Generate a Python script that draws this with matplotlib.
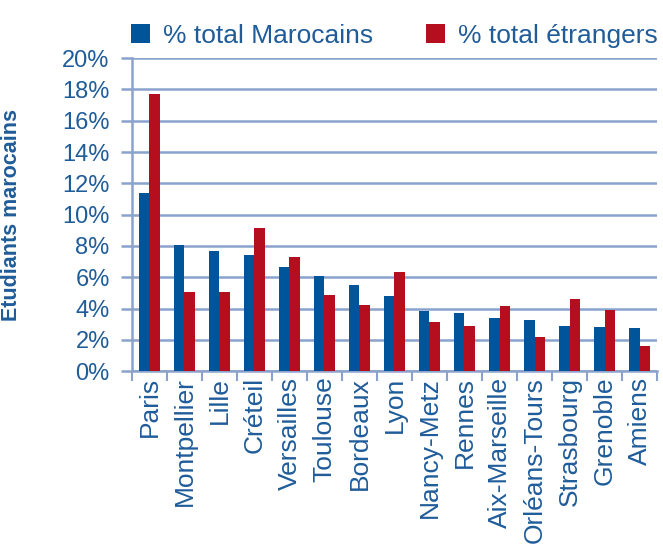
import matplotlib
matplotlib.use("Agg")
import matplotlib.pyplot as plt
import numpy as np

plt.rcParams["font.family"] = ["Liberation Sans", "DejaVu Sans"]

BLUE = "#00559A"; RED = "#B50E1E"; INK = "#1F5C99"; GRID = "#8BA3CC"

villes = ["Paris", "Montpellier", "Lille", "Créteil", "Versailles", "Toulouse",
          "Bordeaux", "Lyon", "Nancy-Metz", "Rennes", "Aix-Marseille",
          "Orléans-Tours", "Strasbourg", "Grenoble", "Amiens"]
marocains = [11.4, 8.05, 7.65, 7.4, 6.65, 6.07, 5.5, 4.8, 3.83, 3.7, 3.39, 3.26, 2.88, 2.81, 2.75]
etrangers = [17.7, 5.05, 5.05, 9.14, 7.28, 4.86, 4.22, 6.33, 3.13, 2.88, 4.15, 2.17, 4.6, 3.9, 1.6]
yticks = [0, 2, 4, 6, 8, 10, 12, 14, 16, 18, 20]

fig = plt.figure(figsize=(6.63, 5.54), dpi=100)
ax = fig.add_axes([0.199, 0.330, 0.792, 0.565])

x = np.arange(len(villes))
w = 0.3
ax.bar(x - w / 2, marocains, w, color=BLUE, label="% total Marocains", zorder=3)
ax.bar(x + w / 2, etrangers, w, color=RED, label="% total étrangers", zorder=3)

ax.set_xlim(-0.5, len(villes) - 0.5)
ax.set_ylim(0, 20)
ax.set_yticks(yticks)
ax.set_yticklabels([f"{v}%" for v in yticks], color=INK, fontsize=17)
ax.yaxis.grid(True, color=GRID, linewidth=1.8, zorder=0)
ax.tick_params(axis="y", length=8, width=1.8, color=GRID, pad=8)

ax.set_xticks(np.arange(len(villes) + 1) - 0.5, minor=False)
ax.set_xticklabels([])
ax.set_xticks(x, minor=True)
ax.set_xticklabels(villes, minor=True, rotation=90, color=INK, fontsize=19)
ax.tick_params(axis="x", which="major", length=7, width=1.5, color=GRID)
ax.tick_params(axis="x", which="minor", length=0, pad=4)

for s in ["top", "right"]:
    ax.spines[s].set_visible(False)
for s in ["left", "bottom"]:
    ax.spines[s].set_color(GRID)
    ax.spines[s].set_linewidth(1.8)

ax.set_ylabel("Etudiants marocains", color=INK, fontsize=15.5, fontweight="bold")
ax.yaxis.set_label_coords(-0.21, 0.5)

ax.legend(loc="lower center", bbox_to_anchor=(0.5, 1.0), ncol=2, frameon=False,
          fontsize=19, labelcolor=INK, handlelength=0.7, handleheight=0.7,
          columnspacing=2.0, handletextpad=0.5, borderaxespad=0.0)

fig.savefig("out.png", dpi=100, facecolor="white")
